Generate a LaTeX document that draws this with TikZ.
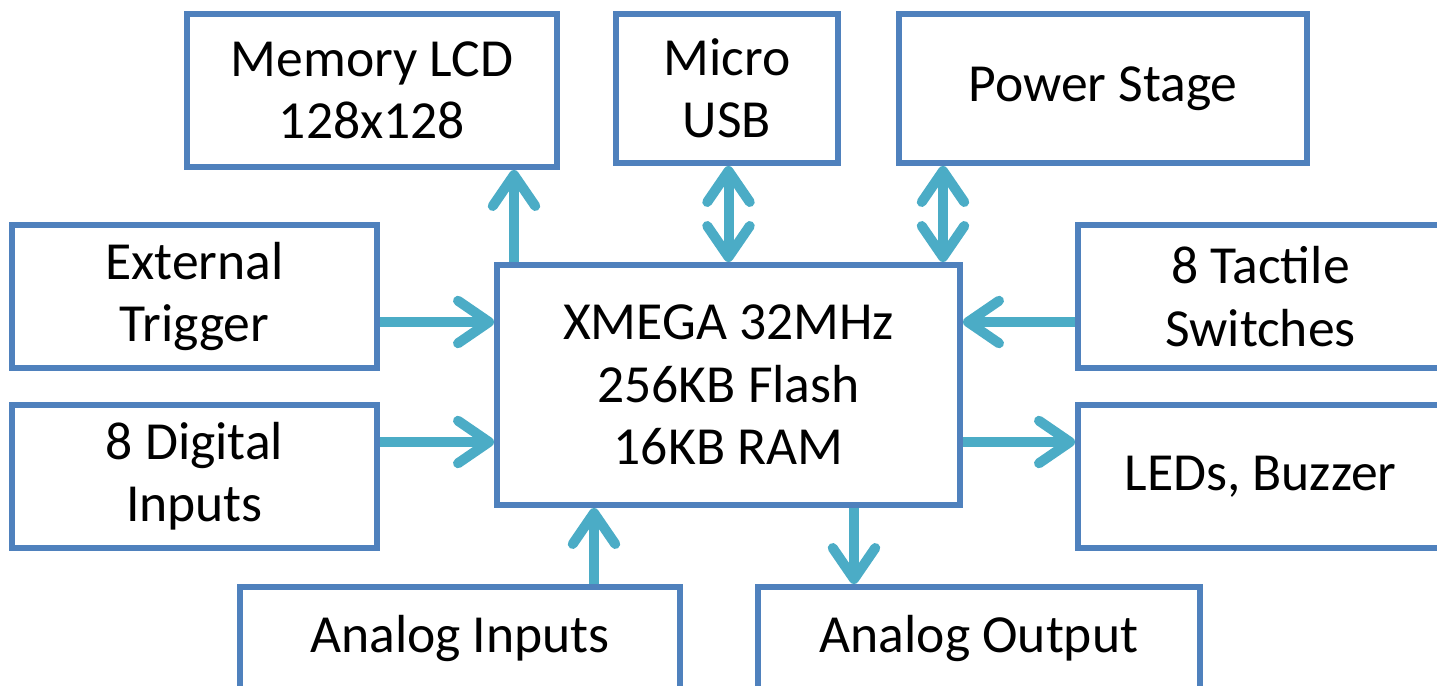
\documentclass[tikz,border=0pt]{standalone}
\usepackage{fontspec}
\setmainfont{Carlito}
\usetikzlibrary{arrows.meta}
\definecolor{boxblue}{HTML}{4F81BD}
\definecolor{arrblue}{HTML}{4BACC6}
\tikzset{
  box/.style={draw=boxblue, line width=0.12cm, fill=white, align=center,
    inner sep=0pt, font=\fontsize{30.5}{35.5}\selectfont},
  arr/.style={draw=arrblue, line width=0.2cm,
    -{Straight Barb[length=0.62cm, width=0.85cm, line cap=round, line join=round]}},
  darr/.style={draw=arrblue, line width=0.2cm,
    {Straight Barb[length=0.62cm, width=0.85cm, line cap=round, line join=round]}-{Straight Barb[length=0.62cm, width=0.85cm, line cap=round, line join=round]}}
}
\begin{document}
\begin{tikzpicture}
\useasboundingbox (0,0) rectangle (28.74,-13.7);
\clip (0,0) rectangle (28.74,-13.7);
\node[box, minimum width=7.4cm, minimum height=3.06cm] (lcd) at (7.44,-1.81) {Memory LCD\\128x128};
\node[box, minimum width=4.44cm, minimum height=2.98cm] (usb) at (14.54,-1.77) {Micro\\USB};
\node[box, minimum width=8.16cm, minimum height=2.98cm] (pwr) at (22.06,-1.77) {Power Stage};
\node[box, minimum width=7.3cm, minimum height=2.86cm] (ext) at (3.89,-5.93) {External\\Trigger};
\node[box, minimum width=7.3cm, minimum height=2.86cm] (dig) at (3.89,-9.53) {8 Digital\\Inputs};
\node[box, minimum width=9.26cm, minimum height=4.8cm] (mcu) at (14.57,-7.7) {XMEGA 32MHz\\256KB Flash\\16KB RAM};
\node[box, minimum width=7.3cm, minimum height=2.86cm] (tac) at (25.21,-5.93) {8 Tactile\\Switches};
\node[box, minimum width=7.3cm, minimum height=2.86cm] (led) at (25.21,-9.53) {LEDs, Buzzer};
\node[box, minimum width=8.8cm, minimum height=2.06cm] (ain) at (9.2,-12.77) {Analog Inputs};
\node[box, minimum width=8.84cm, minimum height=2.06cm] (aout) at (19.58,-12.77) {Analog Output};

\coordinate (pLCD) at ([xshift=0.4cm]mcu.north west);
\coordinate (pPWR) at ([xshift=-0.4cm]mcu.north east);
\coordinate (pEXT) at ([yshift=-1.2cm]mcu.north west);
\coordinate (pDIG) at ([yshift=-3.6cm]mcu.north west);
\coordinate (pTAC) at ([yshift=-1.2cm]mcu.north east);
\coordinate (pLED) at ([yshift=-3.6cm]mcu.north east);
\coordinate (pAIN) at ([xshift=2cm]mcu.south west);
\coordinate (pAOUT) at ([xshift=7.2cm]mcu.south west);

\draw[arr] (pLCD) -- (pLCD |- lcd.south);
\draw[darr] (mcu.north) -- (mcu.north |- usb.south);
\draw[darr] (pPWR) -- (pPWR |- pwr.south);
\draw[arr] (ext.east |- pEXT) -- (pEXT);
\draw[arr] (dig.east |- pDIG) -- (pDIG);
\draw[arr] (tac.west |- pTAC) -- (pTAC);
\draw[arr] (pLED) -- (led.west |- pLED);
\draw[arr] (pAIN |- ain.north) -- (pAIN);
\draw[arr] (pAOUT) -- (pAOUT |- aout.north);
\end{tikzpicture}
\end{document}
